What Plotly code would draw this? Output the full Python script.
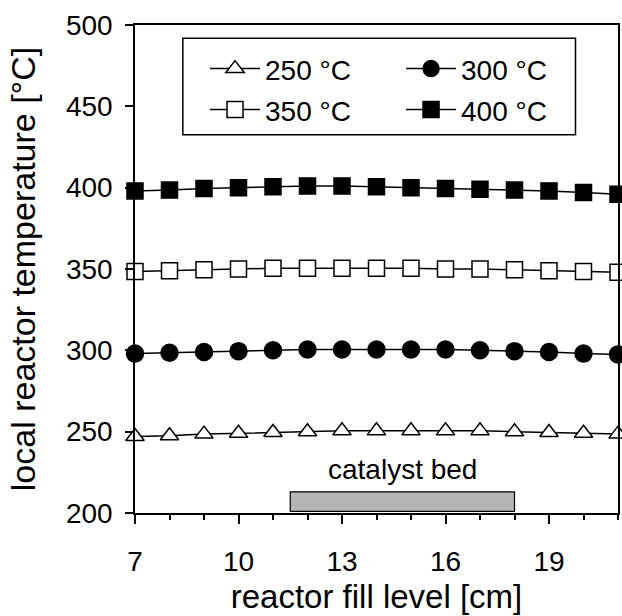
import plotly.graph_objects as go

fill_level = [7, 8, 9, 10, 11, 12, 13, 14, 15, 16, 17, 18, 19, 20, 21]
t250 = [247, 247.5, 248.5, 249, 249.5, 250, 250.5, 250.5, 250.5, 250.5, 250.5, 250, 249.5, 249, 248.5]
t300 = [298, 298.5, 299, 299.5, 300, 300.5, 300.5, 300.5, 300.5, 300.5, 300, 299.5, 299, 298, 297.5]
t350 = [348.5, 349, 349.5, 350, 350.5, 350.5, 350.5, 350.5, 350.5, 350, 350, 349.5, 349, 348.5, 348]
t400 = [398, 398.5, 399.5, 400, 400.5, 401, 401, 400.5, 400, 399.5, 399, 398.5, 398, 397, 396]
series_names = ["250 °C", "300 °C", "350 °C", "400 °C"]
bed_x = [11.5, 18]
bed_y = [201, 213]
bed_label = "catalyst bed"
bed_label_y = 226.5

styles = [
    dict(symbol="triangle-up", color="white", size=16, legend="legend"),
    dict(symbol="circle", color="black", size=17, legend="legend"),
    dict(symbol="square", color="white", size=16, legend="legend2"),
    dict(symbol="square", color="black", size=16, legend="legend2"),
]

fig = go.Figure()
for name, ys, st in zip(series_names, [t250, t300, t350, t400], styles):
    fig.add_trace(go.Scatter(
        x=fill_level, y=ys, name=name, mode="lines+markers",
        line=dict(color="black", width=1.5),
        marker=dict(symbol=st["symbol"], color=st["color"], size=st["size"],
                    line=dict(color="black", width=1.5)),
        cliponaxis=False, legend=st["legend"],
    ))

fig.add_shape(type="rect", x0=bed_x[0], x1=bed_x[1], y0=bed_y[0], y1=bed_y[1],
              xref="x", yref="y", fillcolor="#b5b5b5",
              line=dict(color="black", width=1.2), layer="below")
fig.add_annotation(x=(bed_x[0] + bed_x[1]) / 2, y=bed_label_y, text=bed_label,
                   showarrow=False, xref="x", yref="y",
                   font=dict(size=28, color="black"))

# legend frame
fig.add_shape(type="rect", xref="paper", yref="paper",
              x0=0.099, x1=0.912, y0=0.775, y1=0.973,
              line=dict(color="black", width=1.5), fillcolor="white", layer="below")

font_family = "Liberation Sans, Arial, sans-serif"
leg_common = dict(orientation="h", xanchor="left", yanchor="middle",
                  entrywidth=131, entrywidthmode="pixels", itemwidth=50,
                  borderwidth=0, bgcolor="rgba(0,0,0,0)",
                  font=dict(size=28, family=font_family, color="black"))
fig.update_layout(
    width=622, height=616,
    margin=dict(l=135, r=2, t=25, b=103),
    paper_bgcolor="white", plot_bgcolor="white",
    font=dict(family=font_family, color="black", size=28),
    showlegend=True,
    legend=dict(x=0.145, y=0.91, **leg_common),
    legend2=dict(x=0.145, y=0.826, **leg_common),
    xaxis=dict(
        range=[7, 21], tick0=7, dtick=3, ticks="outside", ticklen=9, tickwidth=1.5,
        tickcolor="black", showline=True, linecolor="black", linewidth=1.5,
        mirror=True, showgrid=False, zeroline=False,
        minor=dict(dtick=1, tick0=7, ticks="outside", ticklen=5, tickwidth=1.5, tickcolor="black", showgrid=False),
        tickfont=dict(size=28), ticklabelstandoff=14,
        title=dict(text="reactor fill level [cm]", font=dict(size=33), standoff=9),
    ),
    yaxis=dict(
        range=[200, 500], dtick=50, ticks="outside", ticklen=8, tickwidth=1.5,
        tickcolor="black", showline=True, linecolor="black", linewidth=1.5,
        mirror=True, showgrid=False, zeroline=False,
        tickfont=dict(size=28), ticklabelstandoff=7,
        title=dict(text="local reactor temperature [°C]", font=dict(size=34), standoff=20),
    ),
)

fig.write_html("out.html")
